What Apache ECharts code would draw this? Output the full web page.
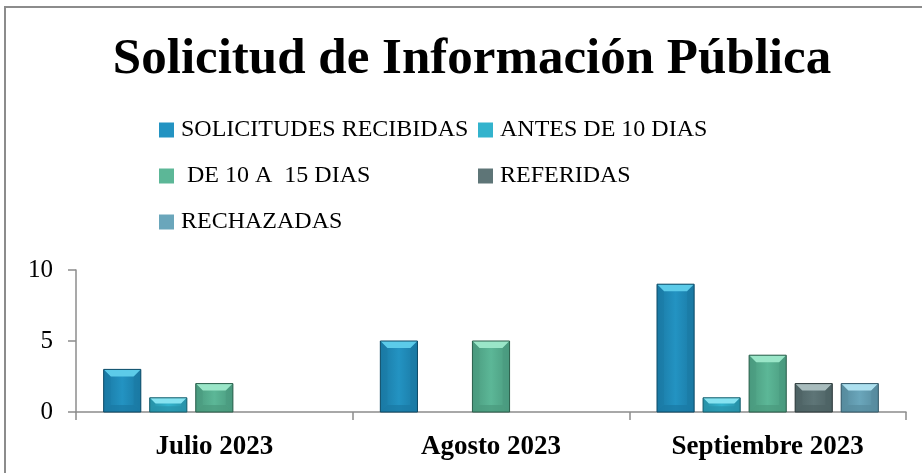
<!DOCTYPE html>
<html>
<head>
<meta charset="utf-8">
<script src="https://cdn.jsdelivr.net/npm/echarts@6/dist/echarts.min.js"></script>
<style>
  html, body { margin: 0; padding: 0; background: #fff; }
  #main { width: 922px; height: 473px; }
</style>
</head>
<body>
<div id="main"></div>
<script>
// datos de la gráfica
var meses = ['Julio 2023', 'Agosto 2023', 'Septiembre 2023'];
var nombres = ['SOLICITUDES RECIBIDAS', 'ANTES DE 10 DIAS', ' DE 10 A  15 DIAS', 'REFERIDAS', 'RECHAZADAS'];
var recibidas = [3, 5, 9];
var antes10 = [1, 0, 1];
var de10a15 = [2, 5, 4];
var referidas = [0, 0, 2];
var rechazadas = [0, 0, 2];
var valoresY = [0, 5, 10];

// colores tipo bisel (cara, luz, sombra, borde)
var colores = [
  { cara: '#2393c2', luz: '#5ccbe9', sombra: '#1a79a4', borde: '#0d4a66' },
  { cara: '#33b3cd', luz: '#86e3f1', sombra: '#2792a9', borde: '#175e6d' },
  { cara: '#5cb797', luz: '#9ae6c8', sombra: '#4a9a7e', borde: '#2a5e4b' },
  { cara: '#5e7577', luz: '#a8bcbd', sombra: '#4d6264', borde: '#2c393a' },
  { cara: '#6aa6bb', luz: '#ade0ef', sombra: '#578b9e', borde: '#335868' }
];

var myChart = echarts.init(document.getElementById('main'));

function serieBisel(idx, valores) {
  return {
    name: nombres[idx],
    type: 'custom',
    itemStyle: { color: colores[idx].cara },
    encode: { x: 0, y: 1 },
    data: valores.map(function (v, i) { return [i, v]; }),
    renderItem: function (params, api) {
      var val = api.value(1);
      if (!val) return null;
      var base = api.coord([api.value(0), 0]);
      var top = api.coord([api.value(0), val]);
      var banda = api.size([1, 0])[0];
      var w = banda * 0.8 / (5 + 4 * 0.24);
      var gap = w * 0.24;
      var grupo = 5 * w + 4 * gap;
      var x = base[0] - grupo / 2 + idx * (w + gap);
      var y = top[1];
      var h = base[1] - top[1];
      var b = Math.min(7, h / 2.5);
      var c = colores[idx];
      return {
        type: 'group',
        children: [
          { type: 'rect', shape: { x: x, y: y, width: w, height: h },
            style: { fill: new echarts.graphic.LinearGradient(0, 0, 1, 0, [
              { offset: 0, color: c.sombra }, { offset: 0.5, color: c.cara }, { offset: 1, color: c.sombra }
            ]) } },
          { type: 'polygon', shape: { points: [[x, y], [x + w, y], [x + w - b, y + b], [x + b, y + b]] },
            style: { fill: c.luz } },
          { type: 'polygon', shape: { points: [[x, y], [x + b, y + b], [x + b, y + h - b], [x, y + h]] },
            style: { fill: c.sombra, opacity: 0.45 } },
          { type: 'polygon', shape: { points: [[x + w, y], [x + w - b, y + b], [x + w - b, y + h - b], [x + w, y + h]] },
            style: { fill: c.sombra, opacity: 0.6 } },
          { type: 'polygon', shape: { points: [[x, y + h], [x + b, y + h - b], [x + w - b, y + h - b], [x + w, y + h]] },
            style: { fill: c.sombra, opacity: 0.7 } },
          { type: 'rect', shape: { x: x, y: y, width: w, height: h },
            style: { fill: 'none', stroke: c.borde, lineWidth: 1 } }
        ]
      };
    }
  };
}

var textoLeyenda = {
  fontFamily: 'Liberation Serif',
  fontSize: 24,
  color: '#000',
  lineHeight: 24,
  padding: [0, 0, 0, 2]
};

var option = {
  backgroundColor: '#fff',
  animation: false,
  title: {
    text: 'Solicitud de Información Pública',
    left: 467,
    textAlign: 'center',
    top: 29,
    textStyle: { fontFamily: 'Liberation Serif', fontWeight: 'bold', fontSize: 51, color: '#000' }
  },
  legend: [{
    data: [nombres[0], nombres[2], nombres[4]],
    orient: 'vertical',
    left: 154,
    top: 113,
    itemWidth: 15,
    itemHeight: 15,
    itemGap: 22,
    icon: 'rect',
    selectedMode: false,
    textStyle: textoLeyenda
  }, {
    data: [nombres[1], nombres[3]],
    orient: 'vertical',
    left: 473,
    top: 113,
    itemWidth: 15,
    itemHeight: 15,
    itemGap: 22,
    icon: 'rect',
    selectedMode: false,
    textStyle: textoLeyenda
  }],
  graphic: [{
    type: 'rect',
    shape: { x: 5, y: 7, width: 1000, height: 1000 },
    style: { fill: 'none', stroke: '#8c8c8c', lineWidth: 2 },
    silent: true
  }],
  grid: { left: 76, right: 16, top: 270, bottom: 61 },
  xAxis: {
    type: 'category',
    data: meses,
    axisLine: { lineStyle: { color: '#8c8c8c', width: 1.5 } },
    axisTick: { show: true, length: 8, lineStyle: { color: '#8c8c8c', width: 1.5 } },
    axisLabel: { margin: 22, fontFamily: 'Liberation Serif', fontWeight: 'bold', fontSize: 27, color: '#000' }
  },
  yAxis: {
    type: 'value',
    min: valoresY[0],
    max: valoresY[valoresY.length - 1],
    interval: valoresY[1] - valoresY[0],
    splitLine: { show: false },
    axisLine: { show: true, lineStyle: { color: '#8c8c8c', width: 1.5 } },
    axisTick: { show: true, length: 8, lineStyle: { color: '#8c8c8c', width: 1.5 } },
    axisLabel: { margin: 23, fontFamily: 'Liberation Serif', fontSize: 25, color: '#000' }
  },
  series: [
    serieBisel(0, recibidas),
    serieBisel(1, antes10),
    serieBisel(2, de10a15),
    serieBisel(3, referidas),
    serieBisel(4, rechazadas)
  ]
};

myChart.setOption(option);
</script>
</body>
</html>
